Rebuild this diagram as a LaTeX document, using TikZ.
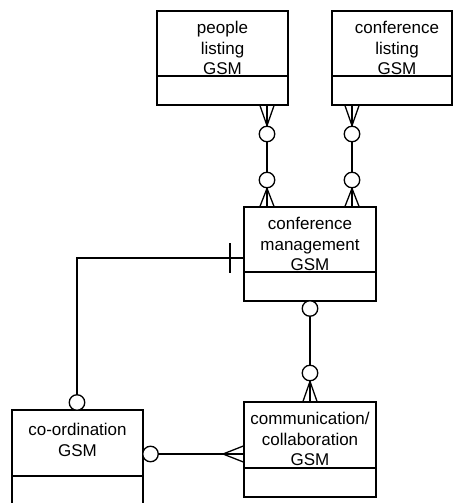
\documentclass[tikz,border=0pt]{standalone}
\usepackage{fontspec}
\setmainfont{Liberation Sans}
\usetikzlibrary{backgrounds}
\begin{document}
\begin{tikzpicture}[x=1pt,y=-1pt,
  ent/.style={draw, line width=1.3pt, rectangle, inner sep=0pt},
  lbl/.style={align=center, font=\fontsize{17}{20.5}\selectfont, inner sep=0pt},
  rel/.style={line width=1.3pt},
  opt/.style={circle, draw, fill=white, line width=1.3pt, minimum size=15.5pt, inner sep=0pt}]
\useasboundingbox (0,0) rectangle (453,503);
\clip (0,0) rectangle (453,503);
% entities
\node[ent, minimum width=131pt, minimum height=94pt] (pl) at (222.5,58) {};
\node[ent, minimum width=120pt, minimum height=94pt] (cl) at (392,58) {};
\node[ent, minimum width=132pt, minimum height=94pt] (cm) at (310,254) {};
\node[ent, minimum width=132pt, minimum height=95pt] (cc) at (310,449.5) {};
\node[ent, minimum width=131pt, minimum height=95pt] (co) at (77.5,457.5) {};
% dividers
\draw[rel] (pl.west |- 0,76) -- (pl.east |- 0,76);
\draw[rel] (cl.west |- 0,76) -- (cl.east |- 0,76);
\draw[rel] (cm.west |- 0,272) -- (cm.east |- 0,272);
\draw[rel] (cc.west |- 0,468) -- (cc.east |- 0,468);
\draw[rel] (co.west |- 0,476) -- (co.east |- 0,476);
% labels
\node[lbl] (plt) at (222.5,48) {people\\listing\\GSM};
\node[lbl] (clt) at (397,48) {conference\\listing\\GSM};
\node[lbl] (cmt) at (310,244) {conference\\management\\GSM};
\node[lbl] (cct) at (310,439) {communication/\\collaboration\\GSM};
\node[lbl] (cot) at (77.5,440) {co-ordination\\GSM};
% optional circles
\node[opt] (a1) at (267,134) {};
\node[opt] (a2) at (267,180) {};
\node[opt] (b1) at (352,134) {};
\node[opt] (b2) at (352,180) {};
\node[opt] (d1) at (310,308.5) {};
\node[opt] (d2) at (310,373) {};
\node[opt] (e1) at (77,402.5) {};
\node[opt] (f1) at (150.5,454) {};
% connectors
\begin{scope}[on background layer]
  % people listing -- conference management
  \coordinate (pa) at (pl.south -| a1);
  \coordinate (pb) at (cm.north -| a1);
  \draw[rel] (pa) -- (pb);
  \draw[rel] ([xshift=-7pt]pa) -- (a1.north) -- ([xshift=7pt]pa);
  \draw[rel] ([xshift=-7pt]pb) -- (a2.south) -- ([xshift=7pt]pb);
  % conference listing -- conference management
  \coordinate (qa) at (cl.south -| b1);
  \coordinate (qb) at (cm.north -| b1);
  \draw[rel] (qa) -- (qb);
  \draw[rel] ([xshift=-7pt]qa) -- (b1.north) -- ([xshift=7pt]qa);
  \draw[rel] ([xshift=-7pt]qb) -- (b2.south) -- ([xshift=7pt]qb);
  % conference management -- communication
  \coordinate (rb) at (cc.north -| d1);
  \draw[rel] (d1) -- (rb);
  \draw[rel] ([xshift=-7pt]rb) -- (d2.south) -- ([xshift=7pt]rb);
  % co-ordination -- conference management
  \coordinate (sa) at (cm.west |- 0,258);
  \draw[rel] (e1) |- (sa);
  \draw[rel] (230,243) -- (230,273);
  % co-ordination -- communication
  \coordinate (ta) at (cc.west |- f1);
  \coordinate (tb) at (223,454);
  \draw[rel] (f1) -- (ta);
  \draw[rel] ([yshift=-8pt]ta) -- (tb) -- ([yshift=8pt]ta);
\end{scope}
\end{tikzpicture}
\end{document}
